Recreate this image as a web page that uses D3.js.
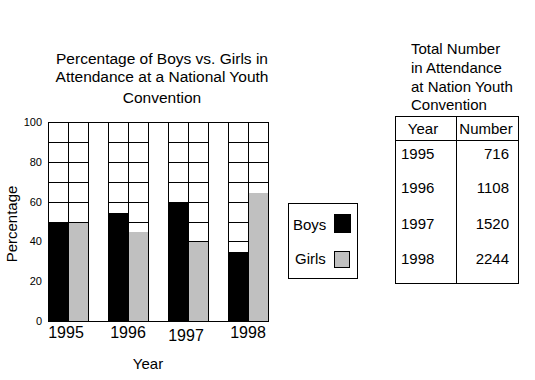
<!DOCTYPE html>
<html><head><meta charset="utf-8">
<script src="https://cdn.jsdelivr.net/npm/d3@7/dist/d3.min.js"></script>
<style>
html,body{margin:0;padding:0;background:#fff;}
svg{display:block;font-family:"Liberation Sans",Arial,sans-serif;}
</style></head>
<body>
<svg id="c" width="535" height="380"></svg>
<script>
const years = ["1995","1996","1997","1998"];
const seriesNames = ["Boys","Girls"];
const boys = [50,55,60,35];
const girls = [50,45,40,65];
const yTicks = [0,20,40,60,80,100];
const gridSteps = [0,10,20,30,40,50,60,70,80,90,100];
const totals = [716,1108,1520,2244];
const titleLines = ["Percentage of Boys vs. Girls in","Attendance at a National Youth","Convention"];
const tableTitle = ["Total Number","in Attendance","at Nation Youth","Convention"];
const colors = ["#000000","#c0c0c0"];

const svg = d3.select("#c");
const L = 48, R = 268, T = 122, B = 321;
const x = d3.scaleBand().domain(years).range([L, R]).paddingInner(1/3).paddingOuter(0);
const xs = d3.scaleBand().domain(seriesNames).range([0, x.bandwidth()]);
const y = d3.scaleLinear().domain([0,100]).range([B, T]);
const cr = v => Math.round(v) + 0.5;

const plot = svg.append("g");
// inner grid (under bars)
years.forEach(yr => {
  const x0 = x(yr);
  gridSteps.forEach(s => {
    plot.append("line").attr("x1", x0).attr("x2", x0 + x.bandwidth())
      .attr("y1", cr(y(s))).attr("y2", cr(y(s))).attr("stroke","#000");
  });
  plot.append("line").attr("x1", cr(x0 + xs.bandwidth())).attr("x2", cr(x0 + xs.bandwidth()))
    .attr("y1", y(100)).attr("y2", y(0)).attr("stroke","#000");
});
// bars
const data = years.map((yr,i)=>({yr, vals:[boys[i], girls[i]]}));
data.forEach(d => {
  d.vals.forEach((v,j) => {
    const yy = Math.round(y(v));
    plot.append("rect")
      .attr("x", x(d.yr) + xs(seriesNames[j]) + (j===0?0:1))
      .attr("width", xs.bandwidth())
      .attr("y", yy + 1)
      .attr("height", Math.round(y(0)) - yy)
      .attr("fill", colors[j]);
  });
});
// outer lines
plot.append("line").attr("x1", L).attr("x2", R+1).attr("y1", cr(y(100))).attr("y2", cr(y(100))).attr("stroke","#000");
plot.append("line").attr("x1", L).attr("x2", R+1).attr("y1", cr(y(0))).attr("y2", cr(y(0))).attr("stroke","#000");
years.forEach(yr => {
  [x(yr), x(yr) + x.bandwidth()].forEach(xx => {
    plot.append("line").attr("x1", cr(xx)).attr("x2", cr(xx))
      .attr("y1", cr(y(100))).attr("y2", cr(y(0))).attr("stroke","#000");
  });
});

// y axis
const ya = svg.append("g").attr("transform", `translate(${L},0)`)
  .call(d3.axisLeft(y).tickValues(yTicks).tickSize(0).tickPadding(6));
ya.select(".domain").remove();
ya.selectAll("text").attr("font-size", 11).attr("font-family","Liberation Sans, Arial, sans-serif").attr("fill","#000");

// x axis
const xa = svg.append("g").attr("transform", `translate(0,${B})`)
  .call(d3.axisBottom(x).tickSize(0).tickPadding(6));
xa.select(".domain").remove();
xa.selectAll("text").attr("font-size", 16).attr("font-family","Liberation Sans, Arial, sans-serif").attr("fill","#000")
  .attr("transform", d => d === "1997" ? "translate(-2,3)" : (d==="1995" ? "translate(-2,0)" : "translate(0,0)"));

svg.append("text").attr("x", 148).attr("y", 369).attr("text-anchor","middle").attr("font-size",15).text("Year");
svg.append("text").attr("transform","translate(17,224) rotate(-90)").attr("text-anchor","middle").attr("font-size",15).text("Percentage");

// title
const ty = [63.5, 82, 102.5];
titleLines.forEach((t,i) => {
  svg.append("text").attr("x", 162).attr("y", ty[i]).attr("text-anchor","middle").attr("font-size",15.5).text(t);
});

// legend
svg.append("rect").attr("x",288.5).attr("y",203.5).attr("width",69).attr("height",75).attr("fill","none").attr("stroke","#000");
const lgY = [230, 263.5];
const swY = [214, 251];
seriesNames.forEach((n,i) => {
  svg.append("text").attr("x", i===0?293:295).attr("y", lgY[i]).attr("font-size",15).text(n);
  svg.append("rect").attr("x", 334.5).attr("y", swY[i] + 0.5).attr("width", i===0?16:15).attr("height", i===0?18:16)
    .attr("fill", colors[i]).attr("stroke","#000");
});

// table
const tb = svg.append("g");
tableTitle.forEach((t,i) => {
  tb.append("text").attr("x", 411).attr("y", [54,72.5,91.5,110][i]).attr("font-size",15).text(t);
});
tb.append("rect").attr("x",395.5).attr("y",116.5).attr("width",123).attr("height",167).attr("fill","none").attr("stroke","#000");
tb.append("line").attr("x1",456.5).attr("x2",456.5).attr("y1",116.5).attr("y2",283.5).attr("stroke","#000");
tb.append("line").attr("x1",395.5).attr("x2",518.5).attr("y1",140.5).attr("y2",140.5).attr("stroke","#000");
tb.append("text").attr("x",423).attr("y",133.5).attr("text-anchor","middle").attr("font-size",15).text("Year");
tb.append("text").attr("x",486).attr("y",133.5).attr("text-anchor","middle").attr("font-size",15).text("Number");
const rowY = [158.5, 193, 228.5, 263.5];
years.forEach((yr,i) => {
  tb.append("text").attr("x",401).attr("y",rowY[i]).attr("font-size",15).text(yr);
  tb.append("text").attr("x",509).attr("y",rowY[i]).attr("text-anchor","end").attr("font-size",15).text(totals[i]);
});
</script>
</body></html>
